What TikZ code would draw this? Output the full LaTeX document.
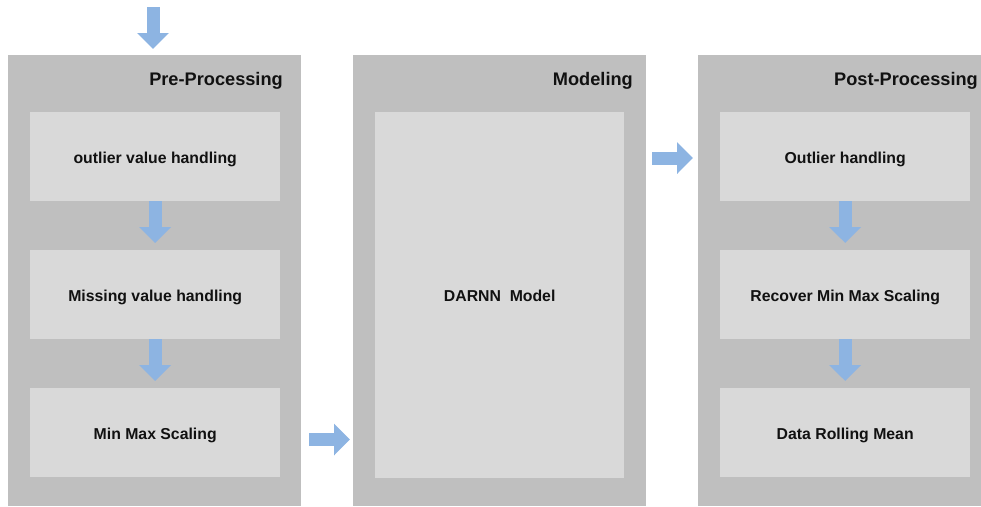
\documentclass[tikz,border=0pt]{standalone}
\usepackage{fontspec}
\setmainfont{Liberation Sans}
\usetikzlibrary{arrows.meta}
\definecolor{outerg}{HTML}{BFBFBF}
\definecolor{innerg}{HTML}{D9D9D9}
\definecolor{flowblue}{HTML}{8DB4E2}
\definecolor{txt}{HTML}{111111}
\tikzset{
  container/.style={fill=outerg, draw=none, anchor=north west, inner sep=0pt, minimum height=451pt},
  stepbox/.style={fill=innerg, draw=none, anchor=north west, inner sep=0pt, minimum width=250pt, minimum height=89pt, text height=13pt, text depth=0pt, text=txt, font=\bfseries\fontsize{15.8}{18}\selectfont},
  titlelabel/.style={anchor=base east, inner sep=0pt, text=txt, font=\bfseries\fontsize{18.2}{21}\selectfont},
  flow/.style={draw=flowblue, line width=13pt, -{Triangle[width=31pt,length=16pt,fill=flowblue]}}
}
\begin{document}
\begin{tikzpicture}[x=1pt,y=-1pt]
\useasboundingbox (0,0) rectangle (981,506);
% containers
\node[container, minimum width=293pt] (pre) at (8,55) {};
\node[container, minimum width=293pt] (mod) at (353,55) {};
\node[container, minimum width=283pt] (post) at (698,55) {};
% titles
\node[titlelabel] (tpre) at (283,85.5) {Pre-Processing};
\node[titlelabel] (tmod) at (633,85.5) {Modeling};
\node[titlelabel] (tpost) at (978,85.5) {Post-Processing};
% pre-processing steps
\node[stepbox] (p1) at (30,112) {outlier value handling};
\node[stepbox] (p2) at (30,250) {Missing value handling};
\node[stepbox] (p3) at (30,388) {Min Max Scaling};
% modeling
\node[stepbox, minimum width=249pt, minimum height=366pt] (m1) at (375,112) {DARNN\ \ Model};
% post-processing steps
\node[stepbox] (q1) at (720,112) {Outlier handling};
\node[stepbox] (q2) at (720,250) {Recover Min Max Scaling};
\node[stepbox] (q3) at (720,388) {Data Rolling Mean};
% arrows
\coordinate (in) at (153,7);
\coordinate (r1) at (320,439.5);
\coordinate (r2) at (670,158);
\draw[flow, shorten >=6pt] (in) -- (in |- pre.north);
\draw[flow, shorten >=7pt] (p1.south) -- (p2.north);
\draw[flow, shorten >=7pt] (p2.south) -- (p3.north);
\draw[flow, shorten >=7pt] (q1.south) -- (q2.north);
\draw[flow, shorten >=7pt] (q2.south) -- (q3.north);
\draw[flow, shorten <=8pt, shorten >=3pt] (pre.east |- r1) -- (mod.west |- r1);
\draw[flow, shorten <=6pt, shorten >=5pt] (mod.east |- r2) -- (post.west |- r2);
\end{tikzpicture}
\end{document}
